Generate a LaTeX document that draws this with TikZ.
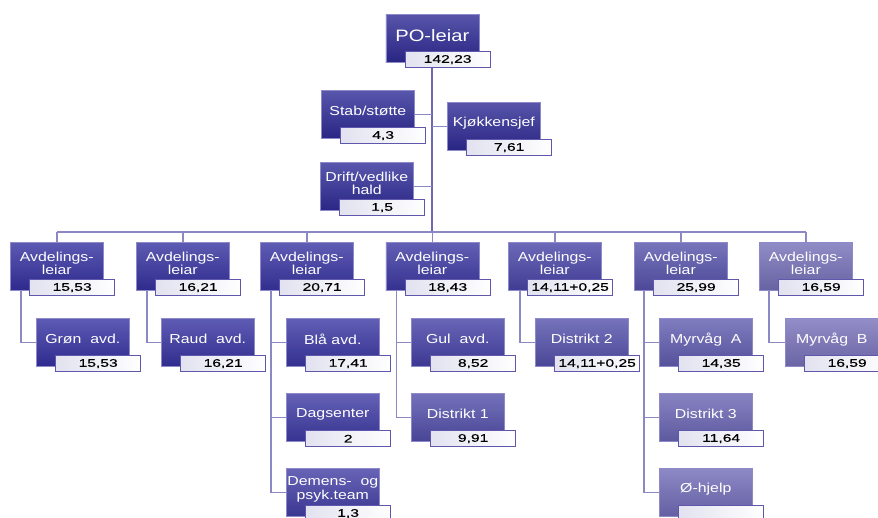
\documentclass[tikz,border=0pt]{standalone}
\usepackage{fontspec}
\usetikzlibrary{calc}
\newfontfamily\lblfont{Liberation Sans}[FakeStretch=1.22]
\newfontfamily\valfont{Liberation Sans}[FakeStretch=1.42,FakeBold=0.4]
\definecolor{vborder}{HTML}{5E57AC}
\definecolor{vfill}{HTML}{E2E2F0}
\definecolor{conn}{HTML}{8C88C4}
\definecolor{trunkc}{HTML}{6E69B2}
\definecolor{edgec}{HTML}{8E8ACA}
\definecolor{kpo}{HTML}{2E2A95}
\definecolor{kstab}{HTML}{2F2B97}
\definecolor{kdrift}{HTML}{302C98}
\definecolor{ka1}{HTML}{3430A0}
\definecolor{ka2}{HTML}{3531A0}
\definecolor{ka3}{HTML}{3834A2}
\definecolor{ka4}{HTML}{3C38A3}
\definecolor{ka5}{HTML}{4844A7}
\definecolor{ka6}{HTML}{5652AB}
\definecolor{ka7}{HTML}{7570B8}
\definecolor{kc1}{HTML}{3531A2}
\definecolor{kc2}{HTML}{3733A2}
\definecolor{kc3a}{HTML}{3A36A3}
\definecolor{kc3b}{HTML}{3E3AA4}
\definecolor{kc3c}{HTML}{423EA5}
\definecolor{kc4a}{HTML}{4440A6}
\definecolor{kc4b}{HTML}{524EAA}
\definecolor{kc5}{HTML}{5450AB}
\definecolor{kc6a}{HTML}{615CB0}
\definecolor{kc6b}{HTML}{6A65B4}
\definecolor{kc6c}{HTML}{716CB8}
\definecolor{kc7}{HTML}{7872BA}
\pgfdeclarelayer{bg}
\pgfsetlayers{bg,main}
\tikzset{
  obox/.style={anchor=north west, minimum width=93pt, minimum height=48pt, inner sep=0pt,
    top color=#1!80!white, bottom color=#1!88!black, draw=edgec, line width=0.6pt},
  otext/.style={text=white, font=\lblfont\fontsize{13}{13.5}\selectfont, align=center, inner sep=0pt},
  bigtext/.style={font=\lblfont\fontsize{16.5}{17}\selectfont},
  vbox/.style={anchor=north west, minimum width=85pt, minimum height=16pt, inner sep=0pt,
    draw=vborder, line width=1.3pt, left color=vfill, right color=white,
    font=\valfont\fontsize{11}{11}\selectfont},
  link/.style={draw=conn, line width=1.5pt},
  trunk/.style={draw=trunkc, line width=2pt}
}
% #1 name, #2 x, #3 y, #4 base colour, #5 text, #6 value, #7 extra text style
\newcommand\orgbox[7]{%
  \node[obox={#4}] (#1) at (#2,#3) {};
  \node[otext,#7] (#1t) at ($(#1.center)+(0,-3)$) {#5};
  \node[vbox] (#1v) at ($(#1.north west)+(19,37)$) {#6};
}
\begin{document}
\begin{tikzpicture}[x=1pt,y=-1pt]
\useasboundingbox (0,0) rectangle (878,517);
\clip (0,0) rectangle (878,517);
% top
\orgbox{po}{385.5}{14}{kpo}{PO-leiar}{142,23}{bigtext}
\orgbox{stab}{321}{90}{kstab}{Stab/støtte}{4,3}{}
\orgbox{kjo}{447}{102}{kpo}{Kjøkkensjef}{7,61}{}
\orgbox{drift}{320}{162}{kdrift}{Drift/vedlike\\hald}{1,5}{}
% level 2
\orgbox{a1}{10}{242}{ka1}{Avdelings-\\leiar}{15,53}{}
\orgbox{a2}{136}{242}{ka2}{Avdelings-\\leiar}{16,21}{}
\orgbox{a3}{260}{242}{ka3}{Avdelings-\\leiar}{20,71}{}
\orgbox{a4}{385.5}{242}{ka4}{Avdelings-\\leiar}{18,43}{}
\orgbox{a5}{508}{242}{ka5}{Avdelings-\\leiar}{14,11+0,25}{}
\orgbox{a6}{634}{242}{ka6}{Avdelings-\\leiar}{25,99}{}
\orgbox{a7}{759}{242}{ka7}{Avdelings-\\leiar}{16,59}{}
% level 3
\orgbox{c1}{36}{318}{kc1}{Grøn\ \ avd.}{15,53}{}
\orgbox{c2}{161}{318}{kc2}{Raud\ \ avd.}{16,21}{}
\orgbox{c3a}{286}{318}{kc3a}{Blå avd.}{17,41}{}
\orgbox{c3b}{286}{393}{kc3b}{Dagsenter}{2}{}
\orgbox{c3c}{286}{468}{kc3c}{Demens-\ \ og\\psyk.team}{1,3}{}
\orgbox{c4a}{411}{318}{kc4a}{Gul\ \ avd.}{8,52}{}
\orgbox{c4b}{411}{393}{kc4b}{Distrikt\ 1}{9,91}{}
\orgbox{c5}{535}{318}{kc5}{Distrikt 2}{14,11+0,25}{}
\orgbox{c6a}{659}{318}{kc6a}{Myrvåg\ \ A}{14,35}{}
\orgbox{c6b}{659}{393}{kc6b}{Distrikt 3}{11,64}{}
\orgbox{c6c}{659}{468}{kc6c}{Ø-hjelp}{}{}
\orgbox{c7}{785}{318}{kc7}{Myrvåg\ \ B}{16,59}{}
% connectors
\begin{pgfonlayer}{bg}
  \fill[white] (0,0) rectangle (878,517);
  \coordinate (bus) at (0,232);
  \draw[trunk] (po.south) -- (po.south |- bus);
  \draw[link] (stab.east) -- (stab.east -| po.south);
  \draw[link] (kjo.west) -- (kjo.west -| po.south);
  \draw[link] (drift.east) -- (drift.east -| po.south);
  \draw[link] (a1.north |- bus) -- (a7.north |- bus);
  \foreach \n in {a1,a2,a3,a4,a5,a6,a7}
    \draw[link] (\n.north |- bus) -- (\n.north);
  \draw[link] ($(a1.south west)+(11,0)$) |- (c1.west);
  \draw[link] ($(a2.south west)+(11,0)$) |- (c2.west);
  \draw[link] ($(a3.south west)+(11,0)$) |- (c3a.west);
  \draw[link] ($(a3.south west)+(11,0)$) |- (c3b.west);
  \draw[link] ($(a3.south west)+(11,0)$) |- (c3c.west);
  \draw[link] ($(a4.south west)+(11,0)$) |- (c4a.west);
  \draw[link] ($(a4.south west)+(11,0)$) |- (c4b.west);
  \draw[link] ($(a5.south west)+(12,0)$) |- (c5.west);
  \draw[link] ($(a6.south west)+(10,0)$) |- (c6a.west);
  \draw[link] ($(a6.south west)+(10,0)$) |- (c6b.west);
  \draw[link] ($(a6.south west)+(10,0)$) |- (c6c.west);
  \draw[link] ($(a7.south west)+(10,0)$) |- (c7.west);
\end{pgfonlayer}
\end{tikzpicture}
\end{document}
